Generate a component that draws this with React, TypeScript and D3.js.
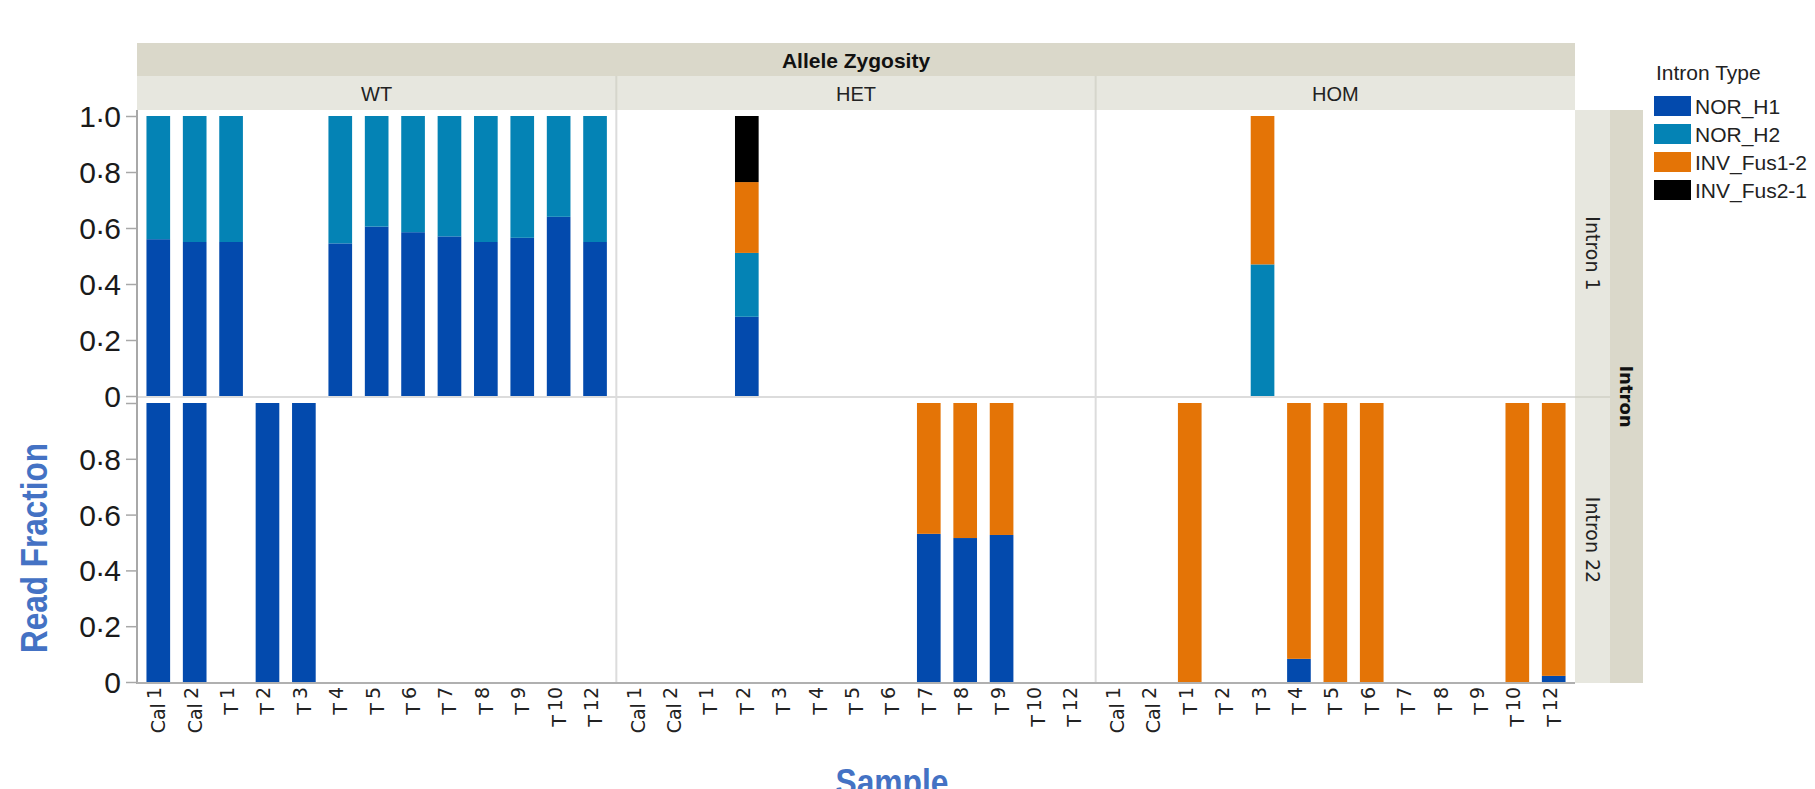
import { useEffect, useRef } from 'react'
import * as d3 from 'd3'

// facets and categories
const zygosity = ['WT', 'HET', 'HOM']
const introns = ['Intron 1', 'Intron 22']
const samples = ['Cal1', 'Cal2', 'T1', 'T2', 'T3', 'T4', 'T5', 'T6', 'T7', 'T8', 'T9', 'T10', 'T12']
const intronTypes = ['NOR_H1', 'NOR_H2', 'INV_Fus1-2', 'INV_Fus2-1']
const typeColors = ['#034aad', '#0483b5', '#e47406', '#000000']
const majorTicks = [0, 0.2, 0.4, 0.6, 0.8, 1.0]
const minorTicks = [0.1, 0.3, 0.5, 0.7, 0.9]

const EMPTY = [0, 0, 0, 0, 0, 0, 0, 0, 0, 0, 0, 0, 0]

// Intron 1 read fractions (one value per sample)
const i1WtNorH1 = [0.56, 0.55, 0.55, 0, 0, 0.545, 0.605, 0.585, 0.57, 0.55, 0.565, 0.64, 0.55]
const i1WtNorH2 = [0.44, 0.45, 0.45, 0, 0, 0.455, 0.395, 0.415, 0.43, 0.45, 0.435, 0.36, 0.45]
const i1HetNorH1 = [0, 0, 0, 0.283, 0, 0, 0, 0, 0, 0, 0, 0, 0]
const i1HetNorH2 = [0, 0, 0, 0.228, 0, 0, 0, 0, 0, 0, 0, 0, 0]
const i1HetFus12 = [0, 0, 0, 0.253, 0, 0, 0, 0, 0, 0, 0, 0, 0]
const i1HetFus21 = [0, 0, 0, 0.236, 0, 0, 0, 0, 0, 0, 0, 0, 0]
const i1HomNorH2 = [0, 0, 0, 0, 0.47, 0, 0, 0, 0, 0, 0, 0, 0]
const i1HomFus12 = [0, 0, 0, 0, 0.53, 0, 0, 0, 0, 0, 0, 0, 0]

// Intron 22 read fractions
const i22WtNorH1 = [1, 1, 0, 1, 1, 0, 0, 0, 0, 0, 0, 0, 0]
const i22HetNorH1 = [0, 0, 0, 0, 0, 0, 0, 0, 0.531, 0.516, 0.527, 0, 0]
const i22HetFus12 = [0, 0, 0, 0, 0, 0, 0, 0, 0.469, 0.484, 0.473, 0, 0]
const i22HomNorH1 = [0, 0, 0, 0, 0, 0.083, 0, 0, 0, 0, 0, 0, 0.022]
const i22HomFus12 = [0, 0, 1, 0, 0, 0.917, 1, 1, 0, 0, 0, 1, 0.978]

// [intron][zygosity] -> series in intronTypes order
const cells = [
  [
    [i1WtNorH1, i1WtNorH2, EMPTY, EMPTY],
    [i1HetNorH1, i1HetNorH2, i1HetFus12, i1HetFus21],
    [EMPTY, i1HomNorH2, i1HomFus12, EMPTY],
  ],
  [
    [i22WtNorH1, EMPTY, EMPTY, EMPTY],
    [i22HetNorH1, EMPTY, i22HetFus12, EMPTY],
    [i22HomNorH1, EMPTY, i22HomFus12, EMPTY],
  ],
]

const W = 1815
const H = 789

export default function App() {
  const ref = useRef<SVGSVGElement | null>(null)

  useEffect(() => {
    if (!ref.current) return
    const svg = d3.select(ref.current)
    svg.selectAll('*').remove()

    const plotLeft = 137
    const plotRight = 1575
    const rowTops = [110, 397]
    const rowBottoms = [397, 683]
    const sans = 'Liberation Sans, Arial, sans-serif'
    const dejavu = 'DejaVu Sans, Verdana, sans-serif'

    svg.append('rect').attr('width', W).attr('height', H).attr('fill', '#fff')

    const fx = d3.scaleBand().domain(zygosity).range([plotLeft, plotRight])

    // header strips
    svg.append('rect')
      .attr('x', plotLeft).attr('y', 43)
      .attr('width', plotRight - plotLeft).attr('height', 33)
      .attr('fill', '#dad8ca')
    svg.append('rect')
      .attr('x', plotLeft).attr('y', 76)
      .attr('width', plotRight - plotLeft).attr('height', 34)
      .attr('fill', '#e7e7df')
    svg.append('text')
      .attr('x', (plotLeft + plotRight) / 2).attr('y', 60)
      .attr('text-anchor', 'middle').attr('dominant-baseline', 'central')
      .attr('font-family', sans).attr('font-weight', 700).attr('font-size', 21)
      .attr('fill', '#111')
      .text('Allele Zygosity')

    zygosity.forEach((z, i) => {
      const x0 = fx(z) ?? 0
      if (i > 0) {
        svg.append('line')
          .attr('x1', x0).attr('x2', x0).attr('y1', 76).attr('y2', 110)
          .attr('stroke', '#d6d6cc').attr('stroke-width', 2)
      }
      svg.append('text')
        .attr('x', x0 + fx.bandwidth() / 2).attr('y', 94)
        .attr('text-anchor', 'middle').attr('dominant-baseline', 'central')
        .attr('font-family', sans).attr('font-size', 20).attr('fill', '#222')
        .text(z)
    })

    // right strips
    svg.append('rect')
      .attr('x', plotRight).attr('y', 110).attr('width', 35).attr('height', 573)
      .attr('fill', '#e7e7df')
    svg.append('rect')
      .attr('x', plotRight + 35).attr('y', 110).attr('width', 33).attr('height', 573)
      .attr('fill', '#dad8ca')
    svg.append('line')
      .attr('x1', plotRight).attr('x2', plotRight + 35).attr('y1', 397).attr('y2', 397)
      .attr('stroke', '#d6d6cc').attr('stroke-width', 2)
    introns.forEach((name, r) => {
      const cy = (rowTops[r] + rowBottoms[r]) / 2
      svg.append('text')
        .attr('transform', `translate(${plotRight + 17.5},${cy}) rotate(90)`)
        .attr('text-anchor', 'middle').attr('dominant-baseline', 'central')
        .attr('font-family', dejavu).attr('font-size', 19).attr('fill', '#222')
        .text(name)
    })
    svg.append('text')
      .attr('transform', `translate(${plotRight + 51},${(rowTops[0] + rowBottoms[1]) / 2}) rotate(90)`)
      .attr('text-anchor', 'middle').attr('dominant-baseline', 'central')
      .attr('font-family', dejavu).attr('font-weight', 700).attr('font-size', 18)
      .attr('fill', '#111')
      .text('Intron')

    // bars
    introns.forEach((_, r) => {
      const y = d3.scaleLinear().domain([0, 1]).range([rowBottoms[r] - 1, rowTops[r] + 6])
      zygosity.forEach((z, c) => {
        const series = cells[r][c]
        const x0 = fx(z) ?? 0
        const xs = d3.scaleBand()
          .domain(samples)
          .range([x0, x0 + fx.bandwidth()])
          .paddingInner(0.35)
          .paddingOuter(0.26)
        const rows = samples.map((s, i) => {
          const row: Record<string, number | string> = { sample: s }
          intronTypes.forEach((t, k) => { row[t] = series[k][i] })
          return row
        })
        const stacked = d3.stack<Record<string, number | string>>()
          .keys(intronTypes)
          .value((d, key) => d[key] as number)(rows)

        const g = svg.append('g')
        g.selectAll('g')
          .data(stacked)
          .join('g')
          .attr('fill', (d) => typeColors[intronTypes.indexOf(d.key)])
          .selectAll('rect')
          .data((d) => d.filter((p) => p[1] - p[0] > 0))
          .join('rect')
          .attr('x', (p) => xs(p.data.sample as string) ?? 0)
          .attr('width', xs.bandwidth())
          .attr('y', (p) => y(p[1]))
          .attr('height', (p) => y(p[0]) - y(p[1]))

        // sample labels on the bottom row
        if (r === introns.length - 1) {
          samples.forEach((s) => {
            const cx = (xs(s) ?? 0) + xs.bandwidth() / 2
            const m = s.match(/^(\D+)(\d+)$/)
            const t = svg.append('text')
              .attr('transform', `translate(${cx},687) rotate(-90)`)
              .attr('text-anchor', 'end').attr('dominant-baseline', 'central')
              .attr('font-family', dejavu).attr('font-size', 19).attr('fill', '#222')
            if (m) {
              t.append('tspan').text(m[1])
              t.append('tspan').attr('dx', 4).attr('dy', -4).text(m[2])
            } else {
              t.text(s)
            }
          })
        }
      })

      // y axis ticks
      const axisG = svg.append('g').attr('transform', `translate(${plotLeft},0)`)
      axisG.call(
        d3.axisLeft(y).tickValues(minorTicks).tickSize(6).tickSizeOuter(0).tickFormat(() => ''),
      )
      axisG.call(
        d3.axisLeft(y).tickValues(majorTicks).tickSize(11).tickSizeOuter(0).tickFormat(() => ''),
      )
      axisG.selectAll('.domain').remove()
      axisG.selectAll('line').attr('stroke', '#a8a8a8').attr('stroke-width', 1.5)

      majorTicks.forEach((v) => {
        if (r > 0 && v === 1) return
        const t = svg.append('text')
          .attr('x', 121).attr('y', y(v))
          .attr('text-anchor', 'end').attr('dominant-baseline', 'central')
          .attr('font-family', sans).attr('font-size', 30).attr('fill', '#1a1a1a')
        const label = v === 0 ? '0' : v.toFixed(1)
        if (label === '0') {
          t.text('0')
        } else {
          const [a, b] = label.split('.')
          t.append('tspan').text(a)
          t.append('tspan').attr('dy', -5).text('.')
          t.append('tspan').attr('dy', 5).text(b)
        }
      })
    })

    // panel separators and axis lines
    zygosity.slice(1).forEach((z) => {
      const x0 = fx(z) ?? 0
      svg.append('line')
        .attr('x1', x0).attr('x2', x0).attr('y1', 110).attr('y2', 683)
        .attr('stroke', '#dcdcdc').attr('stroke-width', 2)
    })
    svg.append('line')
      .attr('x1', plotLeft).attr('x2', plotRight).attr('y1', 397).attr('y2', 397)
      .attr('stroke', '#dcdcdc').attr('stroke-width', 2)
    svg.append('line')
      .attr('x1', plotLeft).attr('x2', plotLeft).attr('y1', 110).attr('y2', 684)
      .attr('stroke', '#a8a8a8').attr('stroke-width', 2)
    svg.append('line')
      .attr('x1', plotLeft).attr('x2', plotRight).attr('y1', 683).attr('y2', 683)
      .attr('stroke', '#b0b0b0').attr('stroke-width', 2)

    // axis titles
    svg.append('text')
      .attr('transform', 'translate(34,548) rotate(-90)')
      .attr('text-anchor', 'middle').attr('dominant-baseline', 'central')
      .attr('font-family', sans).attr('font-weight', 700).attr('font-size', 36)
      .attr('textLength', 210).attr('lengthAdjust', 'spacingAndGlyphs')
      .attr('fill', '#4472c4')
      .text('Read Fraction')
    svg.append('text')
      .attr('x', 892).attr('y', 795)
      .attr('text-anchor', 'middle')
      .attr('font-family', sans).attr('font-weight', 700).attr('font-size', 36)
      .attr('textLength', 113).attr('lengthAdjust', 'spacingAndGlyphs')
      .attr('fill', '#4472c4')
      .text('Sample')

    // legend
    const lg = svg.append('g')
    lg.append('text')
      .attr('x', 1656).attr('y', 72).attr('dominant-baseline', 'central')
      .attr('font-family', sans).attr('font-size', 21).attr('fill', '#222')
      .text('Intron Type')
    intronTypes.forEach((t, k) => {
      lg.append('rect')
        .attr('x', 1654).attr('y', 96 + k * 28).attr('width', 37).attr('height', 20)
        .attr('fill', typeColors[k])
      lg.append('text')
        .attr('x', 1695).attr('y', 106 + k * 28).attr('dominant-baseline', 'central')
        .attr('font-family', sans).attr('font-size', 21).attr('fill', '#222')
        .text(t)
    })
  }, [])

  return (
    <svg
      ref={ref}
      width={W}
      height={H}
      viewBox={`0 0 ${W} ${H}`}
      style={{ position: 'absolute', left: 0, top: 0, display: 'block' }}
      role="img"
      aria-label="Read fraction by sample, intron and allele zygosity"
    />
  )
}
